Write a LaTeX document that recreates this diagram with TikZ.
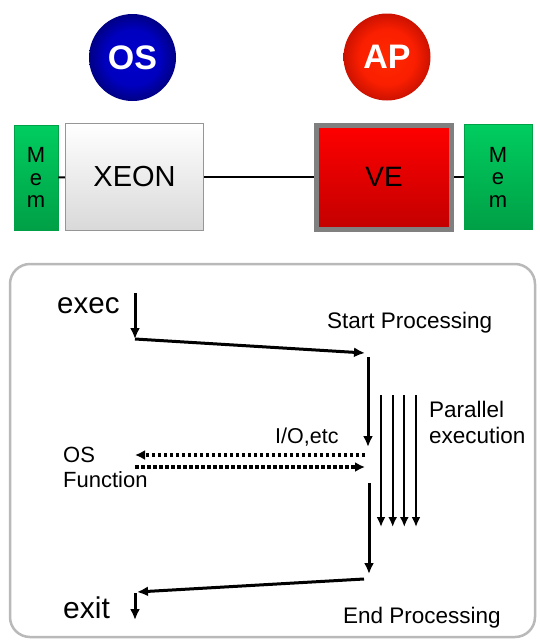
\documentclass[tikz,border=0pt]{standalone}
\usepackage{fontspec}
\setmainfont{Liberation Sans}
\usetikzlibrary{arrows.meta,shadows}

\definecolor{memgreen}{RGB}{0,205,95}
\definecolor{memgreendark}{RGB}{0,160,70}
\definecolor{vered}{RGB}{255,0,0}
\definecolor{vereddark}{RGB}{195,0,0}
\definecolor{chipgray}{RGB}{150,150,150}

\pgfdeclareradialshading{osglow}{\pgfpoint{0bp}{0bp}}{rgb(0bp)=(0,0,0.80); rgb(16bp)=(0,0,0.75); rgb(25bp)=(0,0,0.52); rgb(50bp)=(0,0,0.52)}
\pgfdeclareradialshading{apglow}{\pgfpoint{0bp}{0bp}}{rgb(0bp)=(1,0.16,0); rgb(16bp)=(0.98,0.12,0); rgb(25bp)=(0.80,0.07,0); rgb(50bp)=(0.80,0.07,0)}

\tikzset{
  badge/.style={circle, inner sep=0, minimum size=87pt, text=white,
    font=\bfseries\fontsize{34}{34}\selectfont},
  membox/.style={draw=memgreendark, line width=0.8pt, top color=memgreen,
    bottom color=memgreendark, align=center, inner sep=0,
    font=\fontsize{22}{22.5}\selectfont},
  chip/.style={inner sep=0, font=\fontsize{29}{29}\selectfont},
  bus/.style={line width=2.2pt},
  flow/.style={-{Latex[length=11pt,width=10pt]}, line width=3pt},
  thread/.style={-{Latex[length=10pt,width=9pt]}, line width=2.3pt},
  call/.style={line width=4pt, dash pattern=on 3.5pt off 2.5pt},
  lbl/.style={inner sep=0, font=\fontsize{22.5}{26}\selectfont},
}

\begin{document}
\begin{tikzpicture}[x=1pt, y=-1pt]
  \useasboundingbox (0,0) rectangle (540,643);

  % Hardware
  \node[badge, shading=osglow] (os) at (132.5,57.5) {OS};
  \node[badge, shading=apglow] (ap) at (387,57) {AP};

  \node[membox, minimum width=44pt, minimum height=105pt] (meml) at (36,177.5) {M\\e\\m};
  \node[chip, draw=chipgray, line width=1.2pt, top color=white, bottom color=gray!30,
    minimum width=138pt, minimum height=107pt] (xeon) at (134.5,177) {XEON};
  \node[chip, draw=gray, line width=5pt, top color=vered, bottom color=vereddark,
    font=\fontsize{28}{28}\selectfont,
    minimum width=135pt, minimum height=104pt] (ve) at (384,177) {VE};
  \node[membox, minimum width=68pt, minimum height=105pt] (memr) at (498,177) {M\\e\\m};

  \draw[bus] (meml) -- (xeon);
  \draw[bus] (xeon) -- (ve);
  \draw[bus] (ve) -- (memr);

  % Panel
  \draw[draw=gray!55, line width=2.5pt, rounded corners=20pt, fill=white] (10,264) rectangle (535,637);

  % Labels
  \node[lbl, font=\fontsize{29.5}{30}\selectfont, anchor=base west] (exec) at (57,313) {exec};
  \node[lbl, anchor=base west] (start) at (327,328) {Start Processing};
  \node[lbl, align=left, anchor=west] (par) at (429,422) {Parallel\\execution};
  \node[lbl, anchor=base west, font=\fontsize{21.5}{26}\selectfont] (io) at (275,443) {I/O,etc};
  \node[lbl, align=left, anchor=west, font=\fontsize{22}{25}\selectfont] (osf) at (63,467.5) {OS\\Function};
  \node[lbl, font=\fontsize{30}{30}\selectfont, anchor=base west] (exit) at (63,618) {exit};
  \node[lbl, anchor=base west] (end) at (343,623) {End Processing};

  % Flow
  \coordinate (e1) at (135,293);
  \coordinate (e2) at (135,339);
  \coordinate (s1) at (365,353);
  \coordinate (s2) at (368,357);
  \coordinate (s3) at (368,447);
  \coordinate (c1) at (365,455);
  \coordinate (c2) at (135,455);
  \coordinate (c3) at (135,467);
  \coordinate (c4) at (365,467);
  \coordinate (r1) at (369,483);
  \coordinate (r2) at (369,574);
  \coordinate (x1) at (364,579);
  \coordinate (x2) at (137,592);
  \coordinate (x3) at (135,593);
  \coordinate (x4) at (135,620);

  \draw[flow] (e1) -- (e2);
  \draw[flow] (e2) -- (s1);
  \draw[flow] (s2) -- (s3);
  \draw[call, -{Latex[length=10pt,width=10pt]}] (c1) -- (c2);
  \draw[call, -{Latex[length=10pt,width=10pt]}] (c3) -- (c4);
  \draw[flow] (r1) -- (r2);
  \draw[flow] (x1) -- (x2);
  \draw[flow] (x3) -- (x4);

  \foreach \tx in {381,392.7,404.3,416}
    \draw[thread] (\tx,395) -- (\tx,527);
\end{tikzpicture}
\end{document}
